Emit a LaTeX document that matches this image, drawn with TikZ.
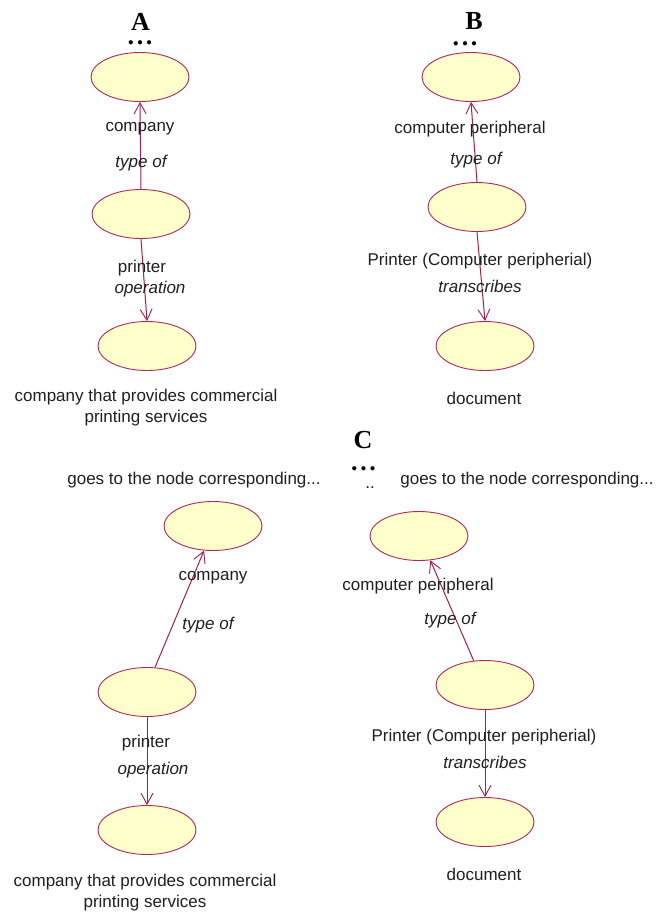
\documentclass[tikz,border=0pt]{standalone}
\usepackage{fontspec}
\setmainfont{Liberation Sans}
\newfontfamily\titlefont{Liberation Serif}
\usetikzlibrary{shapes.geometric,arrows.meta}
\definecolor{rimred}{HTML}{B02858}
\definecolor{linkred}{HTML}{A0204E}
\definecolor{conceptfill}{HTML}{FFFFCC}
\definecolor{labelgray}{HTML}{202020}
\tikzset{
  concept/.style={ellipse, draw=rimred, fill=conceptfill, line width=0.9pt,
    minimum width=98pt, minimum height=49pt, inner sep=0pt},
  link/.style={draw=linkred, line width=1pt,
    -{Straight Barb[length=11pt,width=12pt,line width=0.9pt]}},
  lbl/.style={text=labelgray, font=\fontsize{17}{21}\selectfont, inner sep=0pt, align=center},
  rel/.style={lbl, font=\fontsize{17}{21}\selectfont\itshape},
  panel/.style={font=\titlefont\bfseries\fontsize{26}{28}\selectfont, inner sep=0pt, anchor=base},
  more/.style={font=\titlefont\bfseries\fontsize{26}{28}\selectfont, inner sep=0pt, anchor=base}
}
\newcommand{\threedots}{.\kern2.6pt.\kern2.6pt.}
\begin{document}
\begin{tikzpicture}[x=1pt,y=-1pt]
\useasboundingbox[fill=white] (0,0) rectangle (663,913);

% ---------- A ----------
\node[panel] (tA) at (140.5,30) {A};
\node[more]  (dA) at (140,44.5) {\threedots};
\node[concept] (a1) at (140,77) {};
\node[concept] (a2) at (141,214) {};
\node[concept] (a3) at (147,346) {};
\draw[link] (a2.north) -- (a1.south);
\draw[link] (a2.south) -- (a3.north);
\node[lbl] (la1) at (140,129) {company};
\node[rel] (ra1) at (141,163) {type of};
\node[lbl] (la2) at (142,268) {printer};
\node[rel] (ra2) at (150,289) {operation};
\node[lbl] (la3) at (146,408) {company that provides commercial\\printing services};

% ---------- B ----------
\node[panel] (tB) at (474,29) {B};
\node[more]  (dB) at (465,45) {\threedots};
\node[concept] (b1) at (471,77) {};
\node[concept] (b2) at (477,207) {};
\node[concept] (b3) at (485,346) {};
\draw[link] (b2.north) -- (b1.south);
\draw[link] (b2.south) -- (b3.north);
\node[lbl] (lb1) at (470,129) {computer peripheral};
\node[rel] (rb1) at (476,160) {type of};
\node[lbl] (lb2) at (480,261) {Printer (Computer peripherial)};
\node[rel] (rb2) at (480,286) {transcribes};
\node[lbl] (lb3) at (484,398) {document};

% ---------- C ----------
\node[panel] (tC) at (363,448) {C};
\node[more]  (dC) at (363.5,470) {\threedots};
\node[lbl] (gl) at (194,480) {goes to the node corresponding...};
\node[lbl, anchor=base] (gm) at (370,488) {..};
\node[lbl] (gr) at (527,480) {goes to the node corresponding...};

% left branch
\node[concept] (c1) at (213,526) {};
\node[concept] (c2) at (147,692) {};
\node[concept] (c3) at (147,830) {};
\draw[link] (c2.72) -- (c1.250);
\draw[link] (c2.south) -- (c3.north);
\node[lbl] (lc1) at (213,578) {company};
\node[rel] (rc1) at (208,625) {type of};
\node[lbl] (lc2) at (146,743) {printer};
\node[rel] (rc2) at (153,770) {operation};
\node[lbl] (lc3) at (145,893) {company that provides commercial\\printing services};

% right branch
\node[concept] (d1) at (419,536) {};
\node[concept] (d2) at (485,685) {};
\node[concept] (d3) at (485,822) {};
\draw[link] (d2.115) -- (d1.295);
\draw[link] (d2.south) -- (d3.north);
\node[lbl] (ld1) at (418,586) {computer peripheral};
\node[rel] (rd1) at (450,620) {type of};
\node[lbl] (ld2) at (484,737) {Printer (Computer peripherial)};
\node[rel] (rd2) at (485,762) {transcribes};
\node[lbl] (ld3) at (484,874) {document};
\end{tikzpicture}
\end{document}
